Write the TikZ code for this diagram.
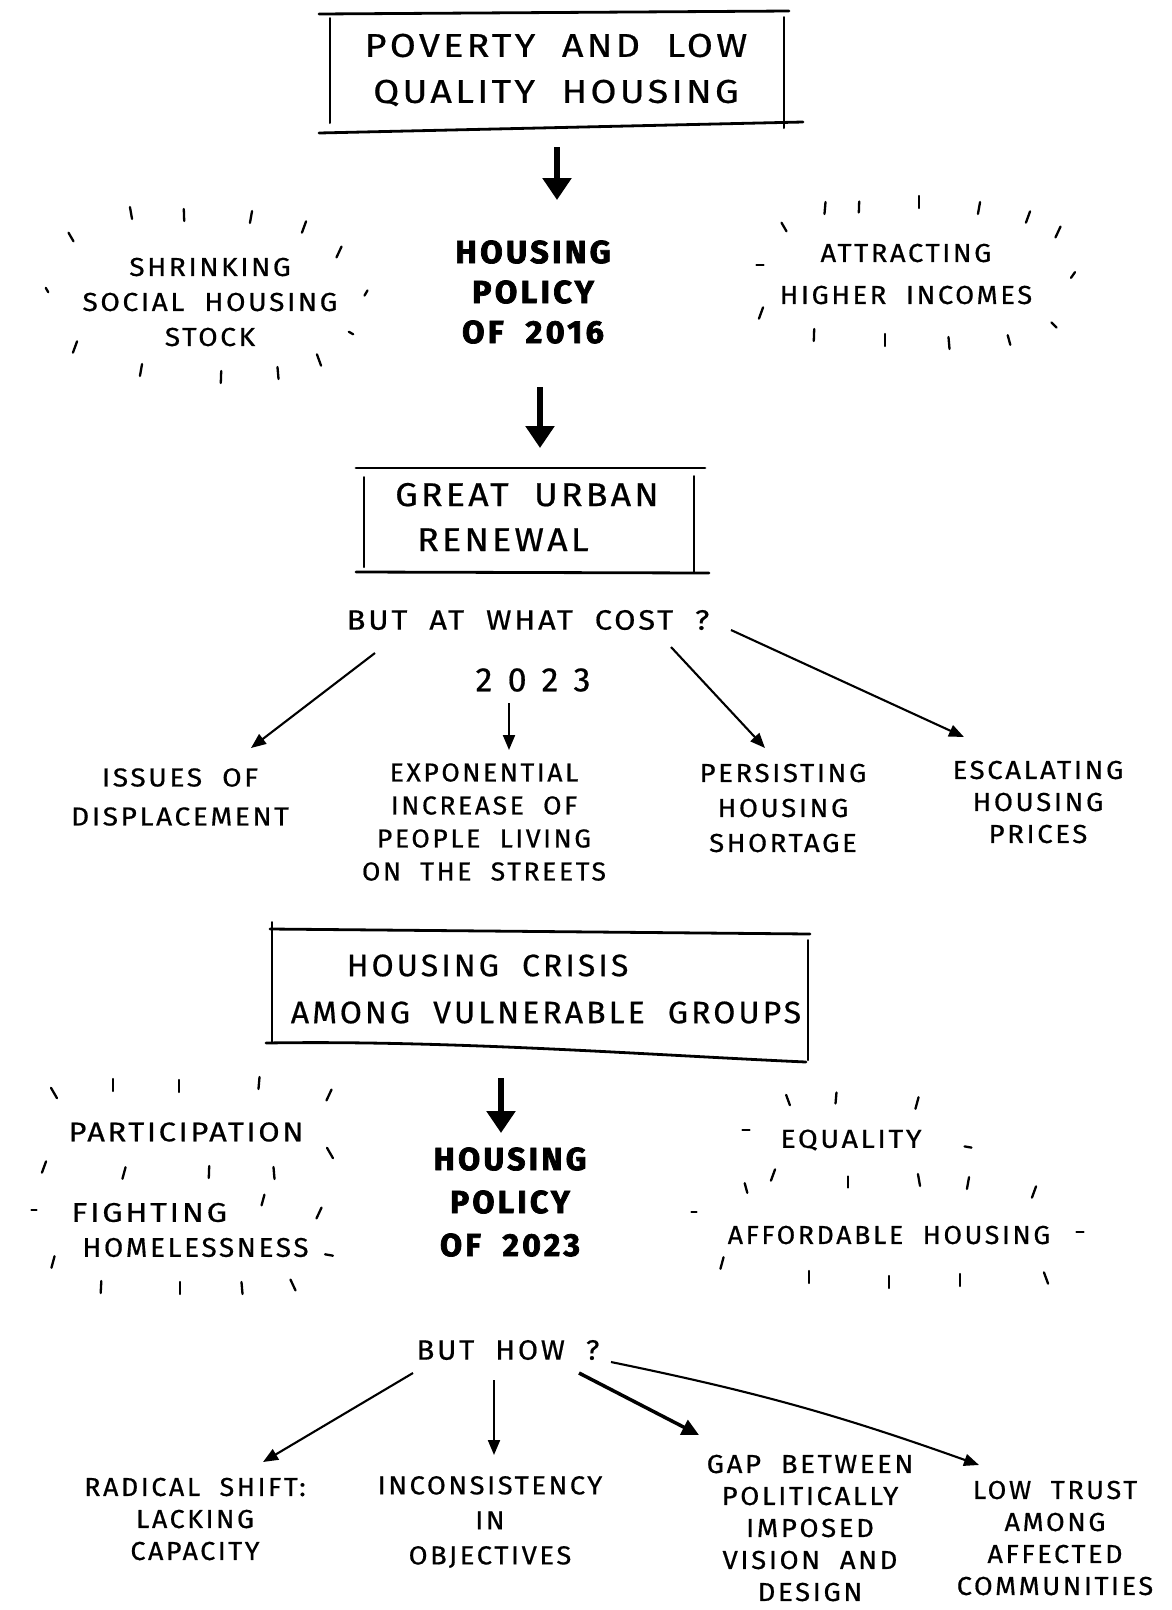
\documentclass[tikz,border=0pt]{standalone}
\usepackage{fontspec}
\setmainfont{Fira Sans}[LetterSpace=10, WordSpace=2, FakeBold=0.6, BoldFeatures={FakeBold=2.2}]
\usetikzlibrary{arrows.meta,calc}

% font size, line distance and horizontal stretch of a caption
\newcommand\capfont[3]{\fontsize{#1}{#2}\selectfont\addfontfeature{FakeStretch=#3}}

\tikzset{
  lbl/.style={align=center, inner sep=0pt, text=black},
  frame/.style={line width=2.8pt, line cap=round},
  side/.style={line width=2pt, line cap=round},
  tick/.style={line width=2.3pt, line cap=round},
  bigarrow/.style={line width=5.5pt, -{Triangle[length=22pt,width=28pt]}},
  arr/.style={line width=2.1pt, -{Triangle[length=15pt,width=12pt]}},
  arrthick/.style={line width=3.5pt, -{Triangle[length=17pt,width=16pt]}},
}
% short radial strokes around a caption: x/y/angle/length
\newcommand\tickset[1]{%
  \foreach \tx/\ty/\ta/\tl in {#1}{%
    \draw[tick] (\tx,\ty) ++(\ta:{-\tl/2}) -- ++(\ta:{\tl});}}

\begin{document}
\begin{tikzpicture}[x=1pt,y=-1pt]
\useasboundingbox[fill=white] (0,0) rectangle (1171,1610);

% ---------- top box ----------
\node[lbl, font=\capfont{33}{46}{1.14}] (box1) at (556,70) {POVERTY AND LOW\\QUALITY HOUSING};
\draw[frame] (319,14) -- (789,11);
\draw[side] (330,18) -- (330,123);
\draw[side] (784,17) -- (784,128);
\draw[frame] (319,133) -- (803,122);

% ---------- housing policy of 2016 ----------
\node[lbl, font=\capfont{32}{40}{1.02}\bfseries] (pol16) at (533,292) {HOUSING\\POLICY\\OF 2016};
\draw[bigarrow] ([shift={(1,77)}]box1.center) -- ([shift={(24,-92)}]pol16.center);

\node[lbl, font=\capfont{26}{35}{1.08}] (shrink) at (210,302) {SHRINKING\\SOCIAL HOUSING\\STOCK};
\tickset{131/213/80/12, 184/215/88/12, 251/217/100/12, 304/227/110/12, 71/237/60/10, 339/252/115/12, 47/290/60/5, 366/293/120/6, 351/333/30/5, 75/347/110/12, 141/370/100/12, 221/377/92/12, 278/373/85/12, 319/360/70/12}

\node[lbl, font=\capfont{26}{42}{1.05}] (attract) at (906,274) {ATTRACTING\\HIGHER INCOMES};
\tickset{825/208/95/12, 859/207/92/11, 919/202/90/12, 979/208/100/12, 1028/217/110/12, 1058/232/115/12, 784/227/60/10, 760/265/0/7, 1073/275/125/7, 761/313/110/12, 1054/325/45/7, 814/335/92/12, 885/340/90/12, 949/343/85/12, 1009/340/75/10}

% ---------- great urban renewal ----------
\node[lbl, align=left, font=\capfont{33}{45}{1.08}] (box2) at (527,517) {GREAT URBAN\\\hspace{22pt}RENEWAL};
\draw[frame] (356,468) -- (705,468);
\draw[side] (364,477) -- (364,567);
\draw[side] (694,476) -- (694,573);
\draw[frame] (356,572) -- (709,573);
\draw[bigarrow] ([shift={(13,-130)}]box2.center) -- ([shift={(13,-69)}]box2.center);

\node[lbl, font=\capfont{28}{30}{1.1}] (cost) at (528,620) {BUT AT WHAT COST ?};
\node[lbl, font=\capfont{34}{40}{1.0}\addfontfeature{LetterSpace=45}] (yr) at (533,680) {2023};

\node[lbl, font=\capfont{26}{39}{1.08}] (disp) at (180,797) {ISSUES OF\\DISPLACEMENT};
\node[lbl, font=\capfont{26}{33}{1.02}] (expo) at (484,822) {EXPONENTIAL\\INCREASE OF\\PEOPLE LIVING\\ON THE STREETS};
\node[lbl, font=\capfont{26}{35}{1.06}] (short) at (783,808) {PERSISTING\\HOUSING\\SHORTAGE};
\node[lbl, font=\capfont{26}{32}{1.06}] (prices) at (1038,802) {ESCALATING\\HOUSING\\PRICES};

\draw[arr] ([shift={(-153,33)}]cost.center) -- ([shift={(71,-49)}]disp.center);
\draw[arr] ([shift={(-24,23)}]yr.center) -- ([shift={(25,-72)}]expo.center);
\draw[arr] ([shift={(143,27)}]cost.center) -- ([shift={(-18,-60)}]short.center);
\draw[arr] ([shift={(203,10)}]cost.center) -- ([shift={(-74,-65)}]prices.center);

% ---------- housing crisis ----------
\node[lbl, align=left, font=\capfont{31}{47}{1.03}] (box3) at (546,989) {\hspace{56pt}HOUSING CRISIS\\AMONG VULNERABLE GROUPS};
\draw[frame] (270,929) -- (810,934);
\draw[side] (272,922) -- (272,1043);
\draw[side] (808,940) -- (808,1060);
\draw[frame] (266,1043) .. controls (450,1040) and (650,1055) .. (806,1062);

% ---------- housing policy of 2023 ----------
\node[lbl, font=\capfont{32}{43}{1.0}\bfseries] (pol23) at (510,1202) {HOUSING\\POLICY\\OF 2023};
\draw[bigarrow] ([shift={(-45,89)}]box3.center) -- ([shift={(-9,-69)}]pol23.center);

\node[lbl, font=\capfont{27}{30}{1.14}] (partic) at (186,1132) {PARTICIPATION};
\node[lbl, align=left, font=\capfont{27}{35}{1.03}] (fight) at (190,1230) {\addfontfeature{FakeStretch=1.2}FIGHTING\\\hspace{11pt}HOMELESSNESS};
\tickset{54/1093/60/12, 113/1085/90/12, 179/1086/90/12, 259/1083/95/12, 329/1095/115/12, 330/1153/60/12, 44/1167/110/12, 124/1173/105/12, 209/1172/92/12, 274/1173/85/12, 263/1200/105/11, 34/1210/0/5, 319/1213/115/12, 329/1255/10/8, 53/1262/105/12, 101/1287/93/12, 180/1288/90/12, 242/1288/85/12, 293/1285/65/12}

\node[lbl, font=\capfont{26}{30}{1.1}] (equal) at (851,1140) {EQUALITY};
\node[lbl, font=\capfont{26}{30}{1.03}] (afford) at (889,1235) {AFFORDABLE HOUSING};
\tickset{788/1100/70/11, 836/1098/95/11, 917/1103/105/12, 746/1130/0/7, 968/1147/10/7, 773/1175/110/12, 848/1182/90/11, 919/1180/80/12, 968/1183/100/12, 1034/1192/110/12, 746/1188/75/10, 694/1212/0/5, 1080/1232/0/7, 722/1263/105/12, 809/1277/90/12, 889/1282/90/12, 960/1280/90/12, 1046/1278/70/12}

% ---------- but how ----------
\node[lbl, font=\capfont{28}{30}{1.04}] (how) at (508,1350) {BUT HOW ?};

\node[lbl, font=\capfont{26}{32}{1.03}] (radical) at (195,1519) {RADICAL SHIFT:\\LACKING\\CAPACITY};
\node[lbl, font=\capfont{26}{35}{1.05}] (incons) at (490,1522) {INCONSISTENCY\\IN\\OBJECTIVES};
\node[lbl, font=\capfont{26}{32}{1.06}] (gap) at (810,1528) {GAP BETWEEN\\POLITICALLY\\IMPOSED\\VISION AND\\DESIGN};
\node[lbl, font=\capfont{26}{32}{1.04}] (trust) at (1055,1538) {LOW TRUST\\AMONG\\AFFECTED\\COMMUNITIES};

\draw[arr] ([shift={(-95,23)}]how.center) -- ([shift={(68,-57)}]radical.center);
\draw[arr] ([shift={(-14,30)}]how.center) -- ([shift={(4,-67)}]incons.center);
\draw[arrthick] ([shift={(71,23)}]how.center) -- ([shift={(-111,-93)}]gap.center);
\draw[arr] ([shift={(103,12)}]how.center) to[bend left=4] ([shift={(-76,-73)}]trust.center);
\end{tikzpicture}
\end{document}
